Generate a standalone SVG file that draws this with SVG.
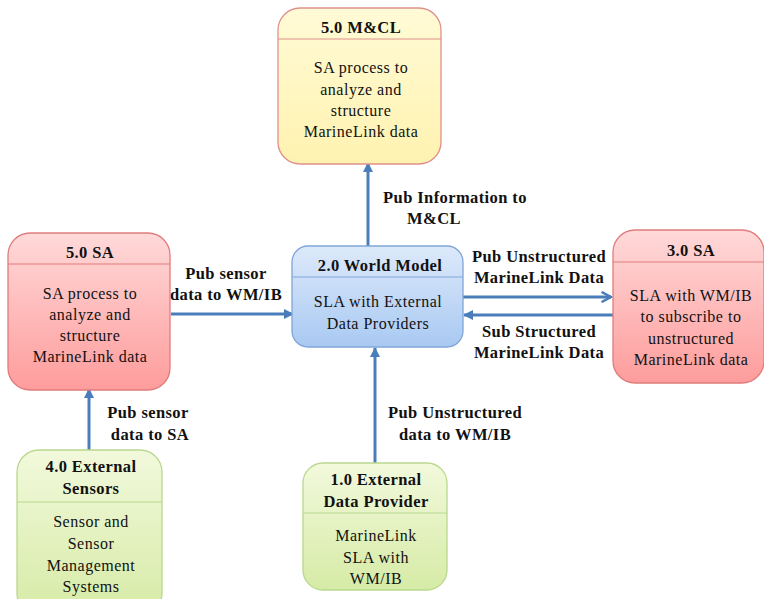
<svg xmlns="http://www.w3.org/2000/svg" width="764" height="599" viewBox="0 0 764 599">
  <defs>
    <linearGradient id="gYellow" x1="0" y1="0" x2="0" y2="1">
      <stop offset="0" stop-color="#fffbd6"/>
      <stop offset="1" stop-color="#fff2b0"/>
    </linearGradient>
    <linearGradient id="gRed" x1="0" y1="0" x2="0" y2="1">
      <stop offset="0" stop-color="#ffd9d9"/>
      <stop offset="1" stop-color="#fe9c9c"/>
    </linearGradient>
    <linearGradient id="gBlue" x1="0" y1="0" x2="0" y2="1">
      <stop offset="0" stop-color="#dde9fa"/>
      <stop offset="1" stop-color="#a9c9f2"/>
    </linearGradient>
    <linearGradient id="gGreen" x1="0" y1="0" x2="0" y2="1">
      <stop offset="0" stop-color="#f2f9dc"/>
      <stop offset="1" stop-color="#d6eba6"/>
    </linearGradient>
    <marker id="tri" viewBox="0 0 10 10" refX="9" refY="5" markerWidth="3.4" markerHeight="3.4" orient="auto" markerUnits="strokeWidth">
      <path d="M0,0 L10,5 L0,10 z" fill="#4a7ebb"/>
    </marker>
    <marker id="open" viewBox="0 0 10 10" refX="8.5" refY="5" markerWidth="4.2" markerHeight="4.2" orient="auto" markerUnits="strokeWidth">
      <path d="M1,1 L8.5,5 L1,9" fill="none" stroke="#4a7ebb" stroke-width="2"/>
    </marker>
  </defs>
  <style>
    text { font-family: "Liberation Serif", "Times New Roman", serif; fill: #111; text-anchor: middle; }
    .title { font-size: 16.5px; font-weight: bold; letter-spacing: 0.4px; }
    .body { font-size: 16px; letter-spacing: 0.5px; }
    .lbl { font-size: 16.5px; font-weight: bold; letter-spacing: 0.4px; }
    .yellow { fill: url(#gYellow); stroke: #e0908c; stroke-width: 1.3; }
    .red { fill: url(#gRed); stroke: #e07c7c; stroke-width: 1.3; }
    .blue { fill: url(#gBlue); stroke: #7fa6d8; stroke-width: 1.3; }
    .green { fill: url(#gGreen); stroke: #b9d88e; stroke-width: 1.3; }
    .divY { stroke: #e0908c; stroke-width: 1; }
    .divR { stroke: #e07c7c; stroke-width: 1; }
    .divB { stroke: #7fa6d8; stroke-width: 1; }
    .divG { stroke: #b9d88e; stroke-width: 1; }
    .conn { stroke: #4a7ebb; stroke-width: 3; fill: none; }
  </style>

  <g id="connectors">
    <line class="conn" x1="368" y1="246" x2="368" y2="163" marker-end="url(#tri)"/>
    <line class="conn" x1="171" y1="314" x2="293" y2="314" marker-end="url(#tri)"/>
    <line class="conn" x1="463" y1="297" x2="611" y2="297" marker-end="url(#open)"/>
    <line class="conn" x1="613" y1="315" x2="464" y2="315" marker-end="url(#tri)"/>
    <line class="conn" x1="89" y1="450" x2="89" y2="389" marker-end="url(#tri)"/>
    <line class="conn" x1="375" y1="463" x2="375" y2="348" marker-end="url(#tri)"/>
  </g>

  <g id="labels">
    <text class="lbl" x="455" y="203">Pub Information to</text>
    <text class="lbl" x="434" y="224">M&amp;CL</text>
    <text class="lbl" x="226" y="279">Pub sensor</text>
    <text class="lbl" x="226" y="300">data to WM/IB</text>
    <text class="lbl" x="539" y="262">Pub Unstructured</text>
    <text class="lbl" x="539" y="283">MarineLink Data</text>
    <text class="lbl" x="539" y="337">Sub Structured</text>
    <text class="lbl" x="539" y="358">MarineLink Data</text>
    <text class="lbl" x="148" y="418">Pub sensor</text>
    <text class="lbl" x="150" y="440">data to SA</text>
    <text class="lbl" x="455" y="418">Pub Unstructured</text>
    <text class="lbl" x="455" y="440">data to WM/IB</text>
  </g>

  <g id="node-mcl">
    <rect class="yellow" x="278" y="8" width="163" height="156" rx="22"/>
    <line class="divY" x1="278" y1="39" x2="441" y2="39"/>
    <text class="title" x="361" y="33">5.0 M&amp;CL</text>
    <text class="body" x="361" y="73">SA process to</text>
    <text class="body" x="361" y="95">analyze and</text>
    <text class="body" x="361" y="116">structure</text>
    <text class="body" x="361" y="137">MarineLink data</text>
  </g>

  <g id="node-sa5">
    <rect class="red" x="8" y="233" width="162" height="157" rx="22"/>
    <line class="divR" x1="8" y1="264" x2="170" y2="264"/>
    <text class="title" x="90" y="258">5.0 SA</text>
    <text class="body" x="90" y="299">SA process to</text>
    <text class="body" x="90" y="320">analyze and</text>
    <text class="body" x="90" y="341">structure</text>
    <text class="body" x="90" y="362">MarineLink data</text>
  </g>

  <g id="node-world-model">
    <rect class="blue" x="292" y="246" width="171" height="101" rx="16"/>
    <line class="divB" x1="292" y1="277" x2="463" y2="277"/>
    <text class="title" x="380" y="271">2.0 World Model</text>
    <text class="body" x="378" y="307">SLA with External</text>
    <text class="body" x="378" y="329">Data Providers</text>
  </g>

  <g id="node-sa3">
    <rect class="red" x="613" y="230" width="151" height="153" rx="22"/>
    <line class="divR" x1="613" y1="262" x2="764" y2="262"/>
    <text class="title" x="691" y="256">3.0 SA</text>
    <text class="body" x="691" y="301">SLA with WM/IB</text>
    <text class="body" x="691" y="322">to subscribe to</text>
    <text class="body" x="691" y="344">unstructured</text>
    <text class="body" x="691" y="365">MarineLink data</text>
  </g>

  <g id="node-ext-sensors">
    <rect class="green" x="17" y="450" width="145" height="165" rx="22"/>
    <line class="divG" x1="17" y1="502" x2="162" y2="502"/>
    <text class="title" x="91" y="472">4.0 External</text>
    <text class="title" x="91" y="494">Sensors</text>
    <text class="body" x="91" y="527">Sensor and</text>
    <text class="body" x="91" y="549">Sensor</text>
    <text class="body" x="91" y="571">Management</text>
    <text class="body" x="91" y="592">Systems</text>
  </g>

  <g id="node-ext-provider">
    <rect class="green" x="303" y="463" width="144" height="127" rx="20"/>
    <line class="divG" x1="303" y1="513" x2="447" y2="513"/>
    <text class="title" x="376" y="485">1.0 External</text>
    <text class="title" x="376" y="507">Data Provider</text>
    <text class="body" x="376" y="541">MarineLink</text>
    <text class="body" x="376" y="563">SLA with</text>
    <text class="body" x="376" y="584">WM/IB</text>
  </g>
</svg>
